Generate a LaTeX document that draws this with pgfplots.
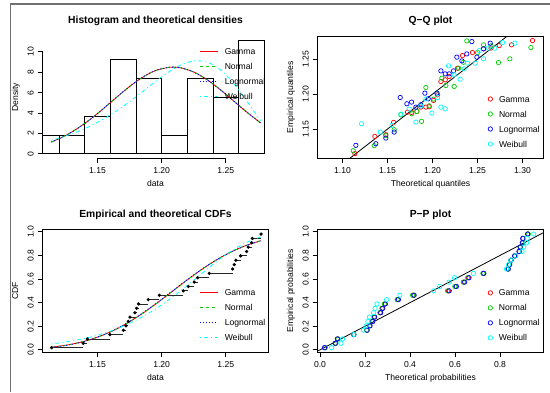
\documentclass[border=0pt]{standalone}
\usepackage{pgfplots}
\pgfplotsset{compat=1.18}
\usepackage{fontspec}
\setmainfont{Liberation Sans}
\definecolor{rred}{HTML}{FF0000}
\definecolor{rgreen}{HTML}{00CD00}
\definecolor{rblue}{HTML}{0000FF}
\definecolor{rcyan}{HTML}{00FFFF}
\definecolor{framegray}{HTML}{707070}
\newcommand{\basefont}{\fontsize{8.6}{10}\selectfont}
\newcommand{\titlefont}{\fontsize{10.3}{12}\selectfont\bfseries}
\pgfplotsset{
  rbase/.style={
    scale only axis, anchor=south west,
    width=225.6pt, height=122.4pt,
    axis line style={black, line width=0.8pt},
    tick style={black, line width=0.8pt},
    major tick length=5pt, tick align=outside, tick pos=left,
    minor tick num=0,
    /pgf/number format/assume math mode=true,
    ticklabel style={font=\basefont, inner sep=0pt},
    xticklabel style={anchor=north, yshift=-3.9pt},
    yticklabel style={xshift=-3.9pt, rotate=90, anchor=south},
    legend style={draw=none, fill=none, inner sep=0pt, outer sep=0pt,
      font=\basefont, anchor=north west, row sep=6.8pt,
      nodes={inner sep=0pt, text height=6.2pt, text depth=2pt, text=black}},
    legend cell align=left,
  },
  linelegend/.style={legend style={column sep=6.7pt},
    legend image code/.code={\draw[##1] (0pt,1pt) -- (18pt,1pt);}},
  marklegend/.style={legend style={column sep=4.3pt},
    legend image code/.code={\path (-4pt,0pt) (4pt,0pt); \draw[##1] plot coordinates {(0pt,1pt)};}},
  cg/.style={draw=rred, line width=0.8pt},
  cn/.style={draw=rgreen, line width=0.8pt, dash pattern=on 3pt off 3pt},
  cl/.style={draw=rblue, line width=0.8pt, dash pattern=on 1pt off 2pt},
  cw/.style={draw=rcyan, line width=0.8pt, dash pattern=on 1pt off 3pt on 4pt off 3pt},
  pm/.style={only marks, mark=o, mark size=2.2pt, line width=0.7pt, color=#1, mark options={solid, draw=#1}},
}
\begin{document}
\begin{tikzpicture}[x=1pt,y=1pt]
\path[use as bounding box] (0,0) rectangle (550,392);
\draw[framegray, line width=1.2pt] (10.5,0) -- (10.5,388) -- (550,388);

% ---------- Panel 1: histogram ----------
\begin{axis}[rbase, at={(42.7pt,233.6pt)},
  xmin=1.1073, xmax=1.2831, ymin=-0.444, ymax=11.555,
  xtick={1.15,1.20,1.25}, xticklabels={1.15,1.20,1.25},
  ytick={0,2,4,6,8,10}, yticklabels={0,2,4,6,8,10},
  axis line style={draw=none}, clip=false,
  linelegend, legend style={at={(0.694,0.9028)}}]
\addplot[black, line width=0.8pt, forget plot] coordinates {(1.1073,0)(1.1073,1.852)(1.12,1.852)(1.12,0)(1.1073,0)};
\addplot[black, line width=0.8pt, forget plot] coordinates {(1.12,0)(1.12,1.852)(1.14,1.852)(1.14,0)(1.12,0)};
\addplot[black, line width=0.8pt, forget plot] coordinates {(1.14,0)(1.14,3.704)(1.16,3.704)(1.16,0)(1.14,0)};
\addplot[black, line width=0.8pt, forget plot] coordinates {(1.16,0)(1.16,9.259)(1.18,9.259)(1.18,0)(1.16,0)};
\addplot[black, line width=0.8pt, forget plot] coordinates {(1.18,0)(1.18,7.407)(1.20,7.407)(1.20,0)(1.18,0)};
\addplot[black, line width=0.8pt, forget plot] coordinates {(1.20,0)(1.20,1.852)(1.22,1.852)(1.22,0)(1.20,0)};
\addplot[black, line width=0.8pt, forget plot] coordinates {(1.22,0)(1.22,7.407)(1.24,7.407)(1.24,0)(1.22,0)};
\addplot[black, line width=0.8pt, forget plot] coordinates {(1.24,0)(1.24,5.556)(1.26,5.556)(1.26,0)(1.24,0)};
\addplot[black, line width=0.8pt, forget plot] coordinates {(1.26,0)(1.26,11.111)(1.28,11.111)(1.28,0)(1.26,0)};
\addplot[black, line width=0.8pt, forget plot] coordinates {(1.15,-0.444)(1.25,-0.444)};
\addplot[black, line width=0.8pt, forget plot] coordinates {(1.1073,0)(1.1073,10)};
\addplot[cg, smooth, forget plot] coordinates {(1.11410,1.166)(1.12424,1.743)(1.13437,2.491)(1.14450,3.402)(1.15463,4.438)(1.16477,5.533)(1.17490,6.590)(1.18503,7.503)(1.19516,8.161)(1.20530,8.482)(1.20884,8.506)(1.21543,8.425)(1.22556,7.995)(1.23569,7.251)(1.24583,6.283)(1.25596,5.203)(1.26609,4.117)(1.27622,3.113)(1.27683,3.057)};
\addplot[cn, smooth, forget plot] coordinates {(1.11410,1.166)(1.12424,1.743)(1.13437,2.491)(1.14450,3.402)(1.15463,4.438)(1.16477,5.533)(1.17490,6.590)(1.18503,7.503)(1.19516,8.161)(1.20530,8.482)(1.20884,8.506)(1.21543,8.425)(1.22556,7.995)(1.23569,7.251)(1.24583,6.283)(1.25596,5.203)(1.26609,4.117)(1.27622,3.113)(1.27683,3.057)};
\addplot[cl, smooth, forget plot] coordinates {(1.11410,1.150)(1.12424,1.730)(1.13437,2.483)(1.14450,3.400)(1.15463,4.441)(1.16477,5.541)(1.17490,6.600)(1.18503,7.513)(1.19516,8.168)(1.20530,8.484)(1.20884,8.504)(1.21543,8.418)(1.22556,7.983)(1.23569,7.238)(1.24583,6.272)(1.25596,5.196)(1.26609,4.116)(1.27622,3.120)(1.27683,3.065)};
\addplot[cw, smooth, forget plot] coordinates {(1.11410,1.334)(1.12424,1.709)(1.13437,2.173)(1.14450,2.739)(1.15463,3.418)(1.16477,4.213)(1.17490,5.114)(1.18503,6.093)(1.19516,7.092)(1.20530,8.019)(1.21543,8.745)(1.22556,9.116)(1.23569,8.981)(1.24583,8.243)(1.25596,6.928)(1.26609,5.213)(1.27622,3.415)(1.27683,3.314)};
\addlegendimage{draw=rred, line width=0.8pt}
\addlegendentry{Gamma}
\addlegendimage{draw=rgreen, line width=0.8pt, dash pattern=on 3pt off 3pt}
\addlegendentry{Normal}
\addlegendimage{draw=rblue, line width=0.8pt, dash pattern=on 1pt off 2pt}
\addlegendentry{Lognormal}
\addlegendimage{draw=rcyan, line width=0.8pt, dash pattern=on 1pt off 3pt on 4pt off 3pt}
\addlegendentry{Weibull}
\end{axis}

% ---------- Panel 2: Q-Q ----------
\begin{axis}[rbase, at={(317.7pt,233.6pt)},
  xmin=1.0724, xmax=1.3231, ymin=1.1080, ymax=1.2832,
  xtick={1.10,1.15,1.20,1.25,1.30}, xticklabels={1.10,1.15,1.20,1.25,1.30},
  ytick={1.15,1.20,1.25}, yticklabels={1.15,1.20,1.25},
  marklegend, legend style={at={(0.746,0.5106)}}]
\addplot[pm=rred] coordinates {(1.1137,1.1148)(1.1359,1.1395)(1.1481,1.1419)(1.1567,1.1595)(1.1722,1.1743)(1.1767,1.1738)(1.1826,1.1752)(1.1870,1.1814)(1.1926,1.1814)(1.1963,1.1820)(1.2011,1.1910)(1.2056,1.1990)(1.2093,1.2181)(1.2141,1.2205)(1.2185,1.2252)(1.2278,1.2371)(1.2333,1.2552)(1.2444,1.2595)(1.2567,1.2648)(1.2650,1.2660)(1.2741,1.2695)(1.2878,1.2705)(1.3111,1.2767)};
\addlegendentry{Gamma}
\addplot[pm=rgreen] coordinates {(1.1119,1.1190)(1.1352,1.1262)(1.1481,1.1405)(1.1574,1.1490)(1.1648,1.1705)(1.1770,1.1719)(1.1826,1.1752)(1.1878,1.1610)(1.1963,1.1833)(1.2011,1.1929)(1.2050,1.2014)(1.1926,1.2095)(1.2104,1.2229)(1.2148,1.2124)(1.2241,1.2110)(1.2290,1.2371)(1.2344,1.2457)(1.2500,1.2595)(1.2567,1.2705)(1.2650,1.2690)(1.2381,1.2762)(1.2733,1.2452)(1.2859,1.2505)(1.3093,1.2667)};
\addlegendentry{Normal}
\addplot[pm=rblue] coordinates {(1.1148,1.1267)(1.1370,1.1290)(1.1481,1.1371)(1.1574,1.1457)(1.1641,1.1952)(1.1715,1.1862)(1.1767,1.1886)(1.1815,1.1814)(1.1870,1.1848)(1.1915,1.2014)(1.1952,1.1933)(1.2048,1.2014)(1.2093,1.2333)(1.2141,1.2290)(1.2185,1.2290)(1.2233,1.2333)(1.2270,1.2529)(1.2326,1.2476)(1.2381,1.2576)(1.2493,1.2529)(1.2567,1.2648)(1.2641,1.2729)(1.2437,1.2752)};
\addlegendentry{Lognormal}
\addplot[pm=rcyan] coordinates {(1.1211,1.1576)(1.1419,1.1457)(1.1548,1.1552)(1.1648,1.1714)(1.1741,1.1786)(1.1815,1.1600)(1.1870,1.1830)(1.1926,1.1930)(1.1993,1.1729)(1.2056,1.1950)(1.2093,1.1814)(1.2141,1.1790)(1.2178,1.2405)(1.2241,1.2276)(1.2307,1.2214)(1.2352,1.2362)(1.2389,1.2443)(1.2474,1.2443)(1.2519,1.2624)(1.2567,1.2505)(1.2620,1.2660)(1.2693,1.2657)(1.2778,1.2738)(1.2915,1.2729)(1.2433,1.2833)};
\addlegendentry{Weibull}
\addplot[black, line width=0.8pt, forget plot] coordinates {(1.05,1.05)(1.35,1.35)};
\end{axis}

% ---------- Panel 3: CDF ----------
\begin{axis}[rbase, at={(42.7pt,39.9pt)}, height=122.5pt,
  xmin=1.1073, xmax=1.2831, ymin=-0.019, ymax=1.019,
  xtick={1.15,1.20,1.25}, xticklabels={1.15,1.20,1.25},
  ytick={0,0.2,0.4,0.6,0.8,1.0}, yticklabels={0.0,0.2,0.4,0.6,0.8,1.0},
  linelegend, legend style={at={(0.694,0.509)}}]
\addplot[black!85, line width=0.8pt, jump mark left, mark=*, mark size=1.2pt, mark options={black}, forget plot] coordinates {
(1.11421,0.0185)(1.13893,0.0556)(1.14207,0.0926)(1.15970,0.1296)(1.17014,0.1667)(1.17216,0.2037)(1.17399,0.2407)(1.17530,0.2778)(1.17915,0.3148)(1.18047,0.3519)(1.18199,0.3889)(1.18959,0.4259)(1.19820,0.4630)(1.21685,0.5000)(1.22080,0.5370)(1.22546,0.5741)(1.22799,0.6111)(1.23711,0.6481)(1.25535,0.6852)(1.25657,0.7222)(1.25788,0.7593)(1.26153,0.7963)(1.26619,0.8333)(1.26751,0.8704)(1.27014,0.9074)(1.27065,0.9444)(1.27744,0.9815)};
\addplot[cg, smooth, forget plot] coordinates {(1.11410,0.0231)(1.12424,0.0375)(1.13437,0.0585)(1.14450,0.0879)(1.15463,0.1270)(1.16477,0.1768)(1.17490,0.2375)(1.18503,0.3081)(1.19516,0.3867)(1.20530,0.4703)(1.21543,0.5551)(1.22556,0.6375)(1.23569,0.7140)(1.24583,0.7818)(1.25596,0.8393)(1.26609,0.8858)(1.27622,0.9219)(1.27683,0.9237)};
\addplot[cn, smooth, forget plot] coordinates {(1.11410,0.0231)(1.12424,0.0375)(1.13437,0.0585)(1.14450,0.0879)(1.15463,0.1270)(1.16477,0.1768)(1.17490,0.2375)(1.18503,0.3081)(1.19516,0.3867)(1.20530,0.4703)(1.21543,0.5551)(1.22556,0.6375)(1.23569,0.7140)(1.24583,0.7818)(1.25596,0.8393)(1.26609,0.8858)(1.27622,0.9219)(1.27683,0.9237)};
\addplot[cl, smooth, forget plot] coordinates {(1.11410,0.0200)(1.12424,0.0345)(1.13437,0.0561)(1.14450,0.0868)(1.15463,0.1275)(1.16477,0.1785)(1.17490,0.2400)(1.18503,0.3110)(1.19516,0.3897)(1.20530,0.4733)(1.21543,0.5580)(1.22556,0.6400)(1.23569,0.7160)(1.24583,0.7830)(1.25596,0.8393)(1.26609,0.8850)(1.27622,0.9200)(1.27683,0.9218)};
\addplot[cw, smooth, forget plot] coordinates {(1.11410,0.0501)(1.12424,0.0652)(1.13437,0.0845)(1.14450,0.1090)(1.15463,0.1397)(1.16477,0.1777)(1.17490,0.2243)(1.18503,0.2803)(1.19516,0.3462)(1.20530,0.4219)(1.21543,0.5059)(1.22556,0.5956)(1.23569,0.6866)(1.24583,0.7732)(1.25596,0.8495)(1.26609,0.9104)(1.27622,0.9535)(1.27683,0.9555)};
\addlegendimage{draw=rred, line width=0.8pt}
\addlegendentry{Gamma}
\addlegendimage{draw=rgreen, line width=0.8pt, dash pattern=on 3pt off 3pt}
\addlegendentry{Normal}
\addlegendimage{draw=rblue, line width=0.8pt, dash pattern=on 1pt off 2pt}
\addlegendentry{Lognormal}
\addlegendimage{draw=rcyan, line width=0.8pt, dash pattern=on 1pt off 3pt on 4pt off 3pt}
\addlegendentry{Weibull}
\end{axis}

% ---------- Panel 4: P-P ----------
\begin{axis}[rbase, at={(317.7pt,39.9pt)}, height=122.5pt,
  xmin=-0.0102, xmax=0.9924, ymin=-0.019, ymax=1.019,
  xtick={0,0.2,0.4,0.6,0.8}, xticklabels={0.0,0.2,0.4,0.6,0.8},
  ytick={0,0.2,0.4,0.6,0.8,1.0}, yticklabels={0.0,0.2,0.4,0.6,0.8,1.0},
  marklegend, legend style={at={(0.746,0.509)}}]
\addplot[pm=rred] coordinates {(0.0216,0.0185)(0.0690,0.0556)(0.0786,0.0926)(0.1503,0.1296)(0.2086,0.1667)(0.2212,0.2037)(0.2330,0.2407)(0.2417,0.2778)(0.2680,0.3148)(0.2772,0.3519)(0.2882,0.3889)(0.3456,0.4259)(0.4150,0.4630)(0.5706,0.5000)(0.6028,0.5370)(0.6398,0.5741)(0.6594,0.6111)(0.7260,0.6481)(0.8362,0.6852)(0.8424,0.7222)(0.8488,0.7593)(0.8657,0.7963)(0.8853,0.8333)(0.8905,0.8704)(0.9003,0.9074)(0.9021,0.9444)(0.9241,0.9815)};
\addlegendentry{Gamma}
\addplot[pm=rgreen] coordinates {(0.0232,0.0185)(0.0706,0.0556)(0.0800,0.0926)(0.1505,0.1296)(0.2077,0.1667)(0.2201,0.2037)(0.2316,0.2407)(0.2402,0.2778)(0.2661,0.3148)(0.2752,0.3519)(0.2860,0.3889)(0.3427,0.4259)(0.4114,0.4630)(0.5669,0.5000)(0.5993,0.5370)(0.6367,0.5741)(0.6565,0.6111)(0.7240,0.6481)(0.8361,0.6852)(0.8424,0.7222)(0.8490,0.7593)(0.8662,0.7963)(0.8862,0.8333)(0.8915,0.8704)(0.9015,0.9074)(0.9033,0.9444)(0.9256,0.9815)};
\addlegendentry{Normal}
\addplot[pm=rblue] coordinates {(0.0200,0.0185)(0.0675,0.0556)(0.0772,0.0926)(0.1502,0.1296)(0.2095,0.1667)(0.2224,0.2037)(0.2343,0.2407)(0.2432,0.2778)(0.2699,0.3148)(0.2793,0.3519)(0.2905,0.3889)(0.3486,0.4259)(0.4185,0.4630)(0.5743,0.5000)(0.6063,0.5370)(0.6430,0.5741)(0.6624,0.6111)(0.7281,0.6481)(0.8363,0.6852)(0.8424,0.7222)(0.8487,0.7593)(0.8652,0.7963)(0.8845,0.8333)(0.8896,0.8704)(0.8992,0.9074)(0.9010,0.9444)(0.9226,0.9815)};
\addlegendentry{Lognormal}
\addplot[pm=rcyan] coordinates {(0.052,0.0185)(0.093,0.0556)(0.100,0.0926)(0.151,0.1296)(0.193,0.1667)(0.205,0.2037)(0.213,0.2407)(0.220,0.2778)(0.238,0.3148)(0.245,0.3519)(0.253,0.3889)(0.296,0.4259)(0.355,0.4630)(0.505,0.5000)(0.532,0.5370)(0.574,0.5741)(0.598,0.6111)(0.682,0.6481)(0.829,0.6852)(0.838,0.7222)(0.848,0.7593)(0.870,0.7963)(0.898,0.8333)(0.905,0.8704)(0.918,0.9074)(0.921,0.9444)(0.950,0.9815)};
\addlegendentry{Weibull}
\addplot[black, line width=0.8pt, forget plot] coordinates {(-0.1,-0.1)(1.1,1.1)};
\end{axis}

% ---------- titles and labels ----------
\node[font=\titlefont, anchor=base] at (155.5,368.6) {Histogram and theoretical densities};
\node[font=\titlefont, anchor=base] at (430.5,368.6) {Q−Q plot};
\node[font=\titlefont, anchor=base] at (155.5,174.8) {Empirical and theoretical CDFs};
\node[font=\titlefont, anchor=base] at (430.5,174.8) {P−P plot};
\node[font=\basefont, anchor=base] at (155.5,206) {data};
\node[font=\basefont, anchor=base] at (430.5,206) {Theoretical quantiles};
\node[font=\basefont, anchor=base] at (155.5,11.5) {data};
\node[font=\basefont, anchor=base] at (430.5,11.5) {Theoretical probabilities};
\node[font=\basefont, anchor=base, rotate=90] at (18.1,294.8) {Density};
\node[font=\basefont, anchor=base, rotate=90] at (293.1,294.8) {Empirical quantiles};
\node[font=\basefont, anchor=base, rotate=90] at (18.1,101.2) {CDF};
\node[font=\basefont, anchor=base, rotate=90] at (293.1,101.2) {Empirical probabilities};
\end{tikzpicture}
\end{document}
